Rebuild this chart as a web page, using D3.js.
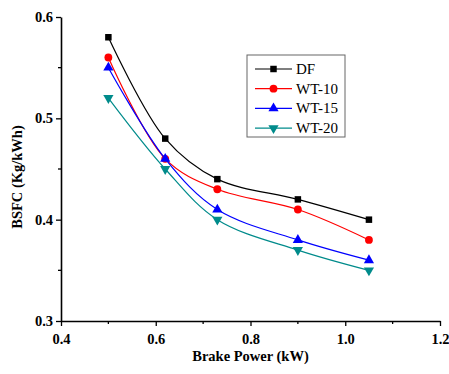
<!DOCTYPE html>
<html>
<head>
<meta charset="utf-8">
<script src="https://cdn.jsdelivr.net/npm/d3@7"></script>
<style>
  body { margin: 0; background: #fff; }
  text { font-family: 'Liberation Serif', 'Times New Roman', serif; }
</style>
</head>
<body>
<svg id="chart" width="449" height="374"></svg>
<script>
const power = [0.5, 0.62, 0.73, 0.9, 1.05];
const df = [0.58, 0.48, 0.44, 0.42, 0.40];
const wt10 = [0.56, 0.46, 0.43, 0.41, 0.38];
const wt15 = [0.55, 0.46, 0.41, 0.38, 0.36];
const wt20 = [0.52, 0.45, 0.40, 0.37, 0.35];
const xTicks = [0.4, 0.6, 0.8, 1.0, 1.2];
const yTicks = [0.3, 0.4, 0.5, 0.6];

const series = [
    { name: 'DF', values: df, color: '#000000', symbol: d3.symbolSquare, size: 42, rot: 0 },
    { name: 'WT-10', values: wt10, color: '#ff0000', symbol: d3.symbolCircle, size: 48, rot: 0 },
    { name: 'WT-15', values: wt15, color: '#0000ff', symbol: d3.symbolTriangle, size: 45, rot: 0 },
    { name: 'WT-20', values: wt20, color: '#008b8b', symbol: d3.symbolTriangle, size: 45, rot: 180 }
];

const margin = { top: 17, right: 9, bottom: 53, left: 61 };
const width = 449 - margin.left - margin.right;
const height = 374 - margin.top - margin.bottom;

const svg = d3.select('#chart');
const g = svg.append('g')
    .attr('transform', `translate(${margin.left},${margin.top})`);

const x = d3.scaleLinear().domain([0.4, 1.2]).range([0, width]);
const y = d3.scaleLinear().domain([0.3, 0.6]).range([height, 0]);

// minor ticks
const xMinor = d3.range(0.5, 1.2, 0.2);
const yMinor = d3.range(0.35, 0.6, 0.1);

g.append('g')
    .selectAll('line')
    .data(xMinor)
    .enter()
    .append('line')
        .attr('x1', d => x(d)).attr('x2', d => x(d))
        .attr('y1', height).attr('y2', height + 3)
        .attr('stroke', '#000').attr('stroke-width', 1.3);

g.append('g')
    .selectAll('line')
    .data(yMinor)
    .enter()
    .append('line')
        .attr('y1', d => y(d)).attr('y2', d => y(d))
        .attr('x1', 0).attr('x2', -3)
        .attr('stroke', '#000').attr('stroke-width', 1.3);

const xAxis = g.append('g')
    .attr('transform', `translate(0,${height})`)
    .call(d3.axisBottom(x).tickValues(xTicks).tickFormat(d3.format('.1f')).tickSize(5).tickSizeOuter(0));

const yAxis = g.append('g')
    .call(d3.axisLeft(y).tickValues(yTicks).tickFormat(d3.format('.1f')).tickSize(5).tickSizeOuter(0));

[xAxis, yAxis].forEach(a => {
    a.select('.domain').attr('stroke-width', 1.6);
    a.selectAll('.tick line').attr('stroke-width', 1.3);
    a.selectAll('text')
        .style('font-family', "'Liberation Serif', serif")
        .style('font-size', '14.5px')
        .style('font-weight', 'bold')
        .attr('fill', '#000');
});
xAxis.selectAll('text').attr('dy', '1.05em');

// axis titles
svg.append('text')
    .attr('x', margin.left + width / 2)
    .attr('y', 361)
    .attr('text-anchor', 'middle')
    .style('font-size', '14.5px')
    .style('font-weight', 'bold')
    .text('Brake Power (kW)');

svg.append('text')
    .attr('transform', 'translate(22,177) rotate(-90)')
    .attr('text-anchor', 'middle')
    .style('font-size', '14.5px')
    .style('font-weight', 'bold')
    .text('BSFC (Kg/kWh)');

// lines
const line = d3.line()
    .x(d => x(d[0]))
    .y(d => y(d[1]))
    .curve(d3.curveCatmullRom.alpha(0.5));

series.forEach(s => {
    const pts = power.map((p, i) => [p, s.values[i]]);
    g.append('path')
        .datum(pts)
        .attr('fill', 'none')
        .attr('stroke', s.color)
        .attr('stroke-width', 1.2)
        .attr('d', line);

    g.append('g')
        .selectAll('path')
        .data(pts)
        .enter()
        .append('path')
            .attr('d', d3.symbol().type(s.symbol).size(s.size))
            .attr('transform', d => `translate(${x(d[0])},${y(d[1])}) rotate(${s.rot})`)
            .attr('fill', s.color);
});

// legend
const legend = svg.append('g').attr('transform', 'translate(247,55)');
legend.append('rect')
    .attr('width', 98).attr('height', 82)
    .attr('fill', '#fff')
    .attr('stroke', '#666').attr('stroke-width', 1);

series.forEach((s, i) => {
    const row = legend.append('g').attr('transform', `translate(0,${14 + i * 19.7})`);
    row.append('line')
        .attr('x1', 8).attr('x2', 45)
        .attr('stroke', s.color).attr('stroke-width', 1.2);
    row.append('path')
        .attr('d', d3.symbol().type(s.symbol).size(s.size))
        .attr('transform', `translate(26.5,0) rotate(${s.rot})`)
        .attr('fill', s.color);
    row.append('text')
        .attr('x', 49).attr('y', 5)
        .style('font-size', '15px')
        .text(s.name);
});
</script>
</body>
</html>
